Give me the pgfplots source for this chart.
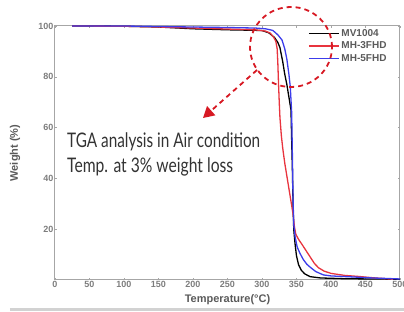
\documentclass[border=0pt]{standalone}
\usepackage{fontspec}
\setmainfont{Liberation Sans}
\newfontfamily\annotfont{Lato}
\usepackage{pgfplots}
\pgfplotsset{compat=1.18}
\usetikzlibrary{arrows.meta}
\definecolor{tgared}{RGB}{232,52,62}
\definecolor{tgablue}{RGB}{60,60,235}
\definecolor{annred}{RGB}{215,25,35}
\definecolor{ticktext}{RGB}{125,125,125}
\definecolor{labeltext}{RGB}{90,90,90}
\begin{document}
\begin{tikzpicture}[x=1pt,y=1pt]
\path[use as bounding box] (-55,-32) rectangle (349,280);
\begin{axis}[
  at={(0,0)}, anchor=south west,
  scale only axis, width=345pt, height=254pt,
  xmin=0, xmax=500, ymin=0, ymax=100,
  xtick={0,50,...,500}, ytick={20,40,60,80,100},
  axis line style={gray!70, line width=1pt},
  tick style={gray!70}, major tick length=2pt, tick align=inside,
  tick label style={font=\fontsize{9}{10}\selectfont\bfseries, text=ticktext, /pgf/number format/assume math mode=true},
  xticklabel style={yshift=2pt},
  yticklabel style={xshift=2pt},
  xlabel={Temperature(°C)}, ylabel={Weight (\%)},
  xlabel style={at={(axis description cs:0.5,-0.079)}, anchor=center, font=\fontsize{11}{12}\selectfont\bfseries, text=labeltext},
  ylabel style={at={(axis description cs:-0.116,0.5)}, anchor=center, font=\fontsize{11}{12}\selectfont\bfseries, text=labeltext},
  legend style={at={(axis description cs:0.733,0.996)}, anchor=north west, draw=none, fill=none, font=\fontsize{10}{11}\selectfont\bfseries, text=labeltext, inner sep=0pt, cells={anchor=west}},
  legend image code/.code={\draw[#1, line width=1.4pt] (0pt,0pt) -- (30pt,0pt);},
]
\addplot[black, line width=1.3pt] coordinates {
(25,100) (50,100) (100,99.9) (150,99.6) (200,98.9) (250,98.5) (290,98.3) (300,98.2) (310,97.3) (318,95.5) (323,93.5) (326,91.5) (330,86) (333,81) (336,77) (339,72) (342,67) (343,55) (344,44) (345,30) (346,20) (348,14) (350,9.5) (353,6) (357,3.8) (362,2.4) (370,1.3) (385,0.8) (420,0.5) (500,0.3)
};
\addlegendentry{MV1004}
\addplot[tgared, line width=1.3pt] coordinates {
(25,100) (100,99.9) (150,99.6) (200,99.2) (250,98.8) (290,98.5) (305,98) (312,97.2) (317,95.5) (320,94) (322,91) (323,85) (324,77) (325,70) (326,64) (328,57) (330,52) (333,46) (336,41) (339,36) (342,31) (345,26) (347,21) (349,18) (353,16) (358,14) (364,11.5) (370,9) (376,6.5) (382,4.8) (390,3.5) (400,2.6) (420,1.8) (440,1.4) (460,0.9) (480,0.5) (490,0.3)
};
\addlegendentry{MH-3FHD}
\addplot[tgablue, line width=1.3pt] coordinates {
(25,100) (100,100) (200,99.6) (250,99.4) (290,99.2) (305,98.9) (312,98.5) (316,98.2) (323,96.5) (329,94.5) (333,91) (336,87) (339,81) (341,76) (343,66) (344,50) (345,32) (346,22) (348,17) (351,13) (355,10.5) (360,8) (365,6.2) (370,5) (378,3.3) (389,2) (400,1.6) (432,1.2) (460,0.8) (481,0.6) (500,0.4)
};
\addlegendentry{MH-5FHD}
\end{axis}
\draw[gray!35, line width=3pt] (-45,-29.5) -- (349,-29.5);
\draw[annred, line width=1.8pt, dash pattern=on 5pt off 4pt] (236,233) ellipse (41 and 40);
\draw[annred, line width=1.8pt, dash pattern=on 5pt off 4pt, -{Triangle[length=11pt,width=12pt]}] (202,210) -- (148,162);
\node[anchor=base west, inner sep=0, text=black!80] at (12,132) {\resizebox{193pt}{14.8pt}{\annotfont TGA analysis in Air condition}};
\node[anchor=base west, inner sep=0, text=black!80] at (12,107) {\resizebox{166pt}{14.8pt}{\annotfont Temp. at 3\% weight loss}};
\end{tikzpicture}
\end{document}
